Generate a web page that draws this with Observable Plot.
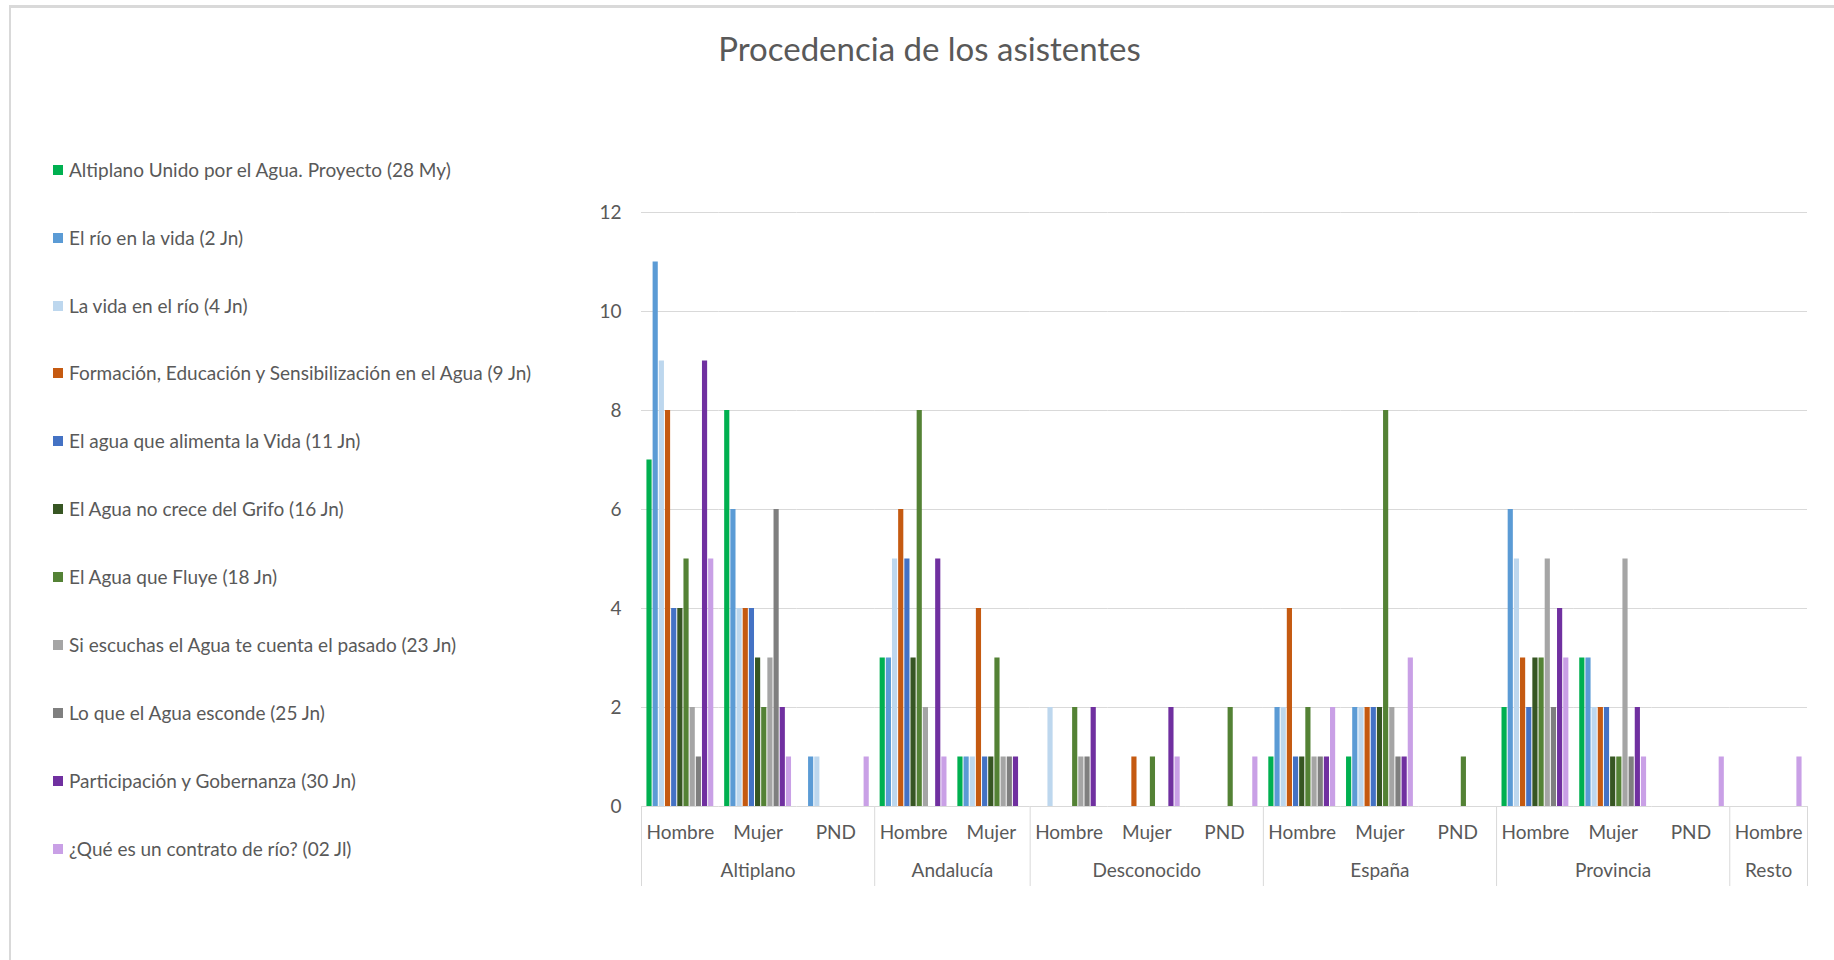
<!DOCTYPE html>
<html>
<head>
<meta charset="utf-8">
<script src="https://cdn.jsdelivr.net/npm/d3@7"></script>
<script src="https://cdn.jsdelivr.net/npm/@observablehq/plot@0.6"></script>
<style>
  html, body { margin: 0; padding: 0; background: #fff; }
  body { width: 1834px; height: 960px; position: relative; overflow: hidden;
         font-family: Lato, "Open Sans", sans-serif; color: #595959; }
  #border { position: absolute; left: 9px; top: 5px; width: 1840px; height: 970px;
            border-left: 2px solid #d9d9d9; border-top: 3px solid #d9d9d9; }
  #title { position: absolute; left: 18px; width: 1823px; top: 28px; line-height: 40px;
           text-align: center; font-size: 33px; font-weight: 400; color: #595959; }
  .item { position: absolute; left: 53px; height: 24px; line-height: 24px;
          display: flex; align-items: center; white-space: nowrap; font-size: 19px; color: #595959; }
  .sw { width: 10px; height: 10px; margin-right: 6px; flex: none; }
  #chart { position: absolute; left: 560px; top: 190px; }
</style>
</head>
<body>
<div id="border"></div>
<div id="title">Procedencia de los asistentes</div>
<div id="legend"></div>
<div id="chart"></div>
<script>
// ---- data ----
const seriesNames = [
  "Altiplano Unido por el Agua. Proyecto (28 My)",
  "El río en la vida (2 Jn)",
  "La vida en el río (4 Jn)",
  "Formación, Educación y Sensibilización en el Agua (9 Jn)",
  "El agua que alimenta la Vida (11 Jn)",
  "El Agua no crece del Grifo (16 Jn)",
  "El Agua que Fluye (18 Jn)",
  "Si escuchas el Agua te cuenta el pasado (23 Jn)",
  "Lo que el Agua esconde (25 Jn)",
  "Participación y Gobernanza (30 Jn)",
  "¿Qué es un contrato de río? (02 Jl)"
];
const seriesColors = ["#00B050", "#5B9BD5", "#BDD7EE", "#C55A11", "#4472C4", "#375623",
                      "#548235", "#A5A5A5", "#7F7F7F", "#7030A0", "#C9A0E6"];

const categoryGroups = ["Altiplano", "Altiplano", "Altiplano", "Andalucía", "Andalucía",
  "Desconocido", "Desconocido", "Desconocido", "España", "España", "España",
  "Provincia", "Provincia", "Provincia", "Resto"];
const categorySubs = ["Hombre", "Mujer", "PND", "Hombre", "Mujer",
  "Hombre", "Mujer", "PND", "Hombre", "Mujer", "PND",
  "Hombre", "Mujer", "PND", "Hombre"];

// values per category, in series order
const altiplanoHombre   = [7, 11, 9, 8, 4, 4, 5, 2, 1, 9, 5];
const altiplanoMujer    = [8, 6, 4, 4, 4, 3, 2, 3, 6, 2, 1];
const altiplanoPND      = [0, 1, 1, 0, 0, 0, 0, 0, 0, 0, 1];
const andaluciaHombre   = [3, 3, 5, 6, 5, 3, 8, 2, 0, 5, 1];
const andaluciaMujer    = [1, 1, 1, 4, 1, 1, 3, 1, 1, 1, 0];
const desconocidoHombre = [0, 0, 2, 0, 0, 0, 2, 1, 1, 2, 0];
const desconocidoMujer  = [0, 0, 0, 1, 0, 0, 1, 0, 0, 2, 1];
const desconocidoPND    = [0, 0, 0, 0, 0, 0, 2, 0, 0, 0, 1];
const espanaHombre      = [1, 2, 2, 4, 1, 1, 2, 1, 1, 1, 2];
const espanaMujer       = [1, 2, 2, 2, 2, 2, 8, 2, 1, 1, 3];
const espanaPND         = [0, 0, 0, 0, 0, 0, 1, 0, 0, 0, 0];
const provinciaHombre   = [2, 6, 5, 3, 2, 3, 3, 5, 2, 4, 3];
const provinciaMujer    = [3, 3, 2, 2, 2, 1, 1, 5, 1, 2, 1];
const provinciaPND      = [0, 0, 0, 0, 0, 0, 0, 0, 0, 0, 1];
const restoHombre       = [0, 0, 0, 0, 0, 0, 0, 0, 0, 0, 1];
const categoryValues = [altiplanoHombre, altiplanoMujer, altiplanoPND, andaluciaHombre, andaluciaMujer,
  desconocidoHombre, desconocidoMujer, desconocidoPND, espanaHombre, espanaMujer, espanaPND,
  provinciaHombre, provinciaMujer, provinciaPND, restoHombre];

const yTicks = [0, 2, 4, 6, 8, 10, 12];
const titleText = "Procedencia de los asistentes";

// ---- legend (HTML) ----
const legend = document.getElementById("legend");
seriesNames.forEach((name, i) => {
  const item = document.createElement("div");
  item.className = "item";
  item.style.top = (169.6 + i * 67.95 - 12) + "px";
  const sw = document.createElement("span");
  sw.className = "sw";
  sw.style.background = seriesColors[i];
  const tx = document.createElement("span");
  tx.textContent = name;
  item.appendChild(sw); item.appendChild(tx);
  legend.appendChild(item);
});
document.getElementById("title").textContent = titleText;

// ---- build table ----
const keys = categoryGroups.map((g, i) => g + "|" + categorySubs[i]);
const subOf = Object.fromEntries(keys.map((k, i) => [k, categorySubs[i]]));
const rows = [];
categoryValues.forEach((vals, ci) => vals.forEach((v, si) =>
  rows.push({key: keys[ci], series: seriesNames[si], value: v})));

const groups = [];
categoryGroups.forEach((g, i) => {
  let last = groups[groups.length - 1];
  if (!last || last.name !== g) { last = {name: g, keys: []}; groups.push(last); }
  last.keys.push(keys[i]);
});
const groupOdd = groups.filter(g => g.keys.length % 2 === 1).map(g => ({name: g.name, mid: g.keys[(g.keys.length - 1) / 2]}));
const groupEven = groups.filter(g => g.keys.length % 2 === 0).map(g => ({name: g.name, mid: g.keys[g.keys.length / 2 - 1]}));
const groupStarts = groups.map(g => g.keys[0]);
const lastKey = keys[keys.length - 1];

const W = 1274, H = 700, mL = 81, mR = 27, mT = 22, mB = 84;
const bw = (W - mL - mR) / keys.length;
const gridColor = "#d9d9d9";

const chart = Plot.plot({
  width: W, height: H,
  marginLeft: mL, marginRight: mR, marginTop: mT, marginBottom: mB,
  style: {fontFamily: "Lato, 'Open Sans', sans-serif", fontSize: "19px", color: "#595959", background: "transparent"},
  fx: {domain: keys, padding: 0, round: false, axis: "bottom", tickSize: 0, tickPadding: 19, tickFormat: k => subOf[k], label: null},
  x: {domain: seriesNames, paddingInner: 0, paddingOuter: 0.8, round: false, axis: null},
  y: {domain: [0, 12], ticks: yTicks, tickSize: 0, tickPadding: 20, label: null, tickFormat: d => String(d)},
  color: {domain: seriesNames, range: seriesColors},
  marks: [
    Plot.ruleY(yTicks, {stroke: gridColor, strokeWidth: 1}),
    Plot.barY(rows.filter(d => d.value > 0), {fx: "key", x: "series", y: "value", fill: "series", insetLeft: 0.5, insetRight: 0.5}),
    Plot.text(groupOdd, {fx: "mid", text: "name", frameAnchor: "bottom", textAnchor: "middle", dy: 70}),
    Plot.text(groupEven, {fx: "mid", text: "name", frameAnchor: "bottom-right", textAnchor: "middle", dy: 70}),
    Plot.ruleX(groupStarts, {fx: d => d, x: null, y1: 0, y2: 0, insetBottom: -80, dx: -bw / 2, stroke: gridColor}),
    Plot.ruleX([lastKey], {fx: d => d, x: null, y1: 0, y2: 0, insetBottom: -80, dx: bw / 2, stroke: gridColor})
  ]
});
document.getElementById("chart").appendChild(chart);
</script>
</body>
</html>
